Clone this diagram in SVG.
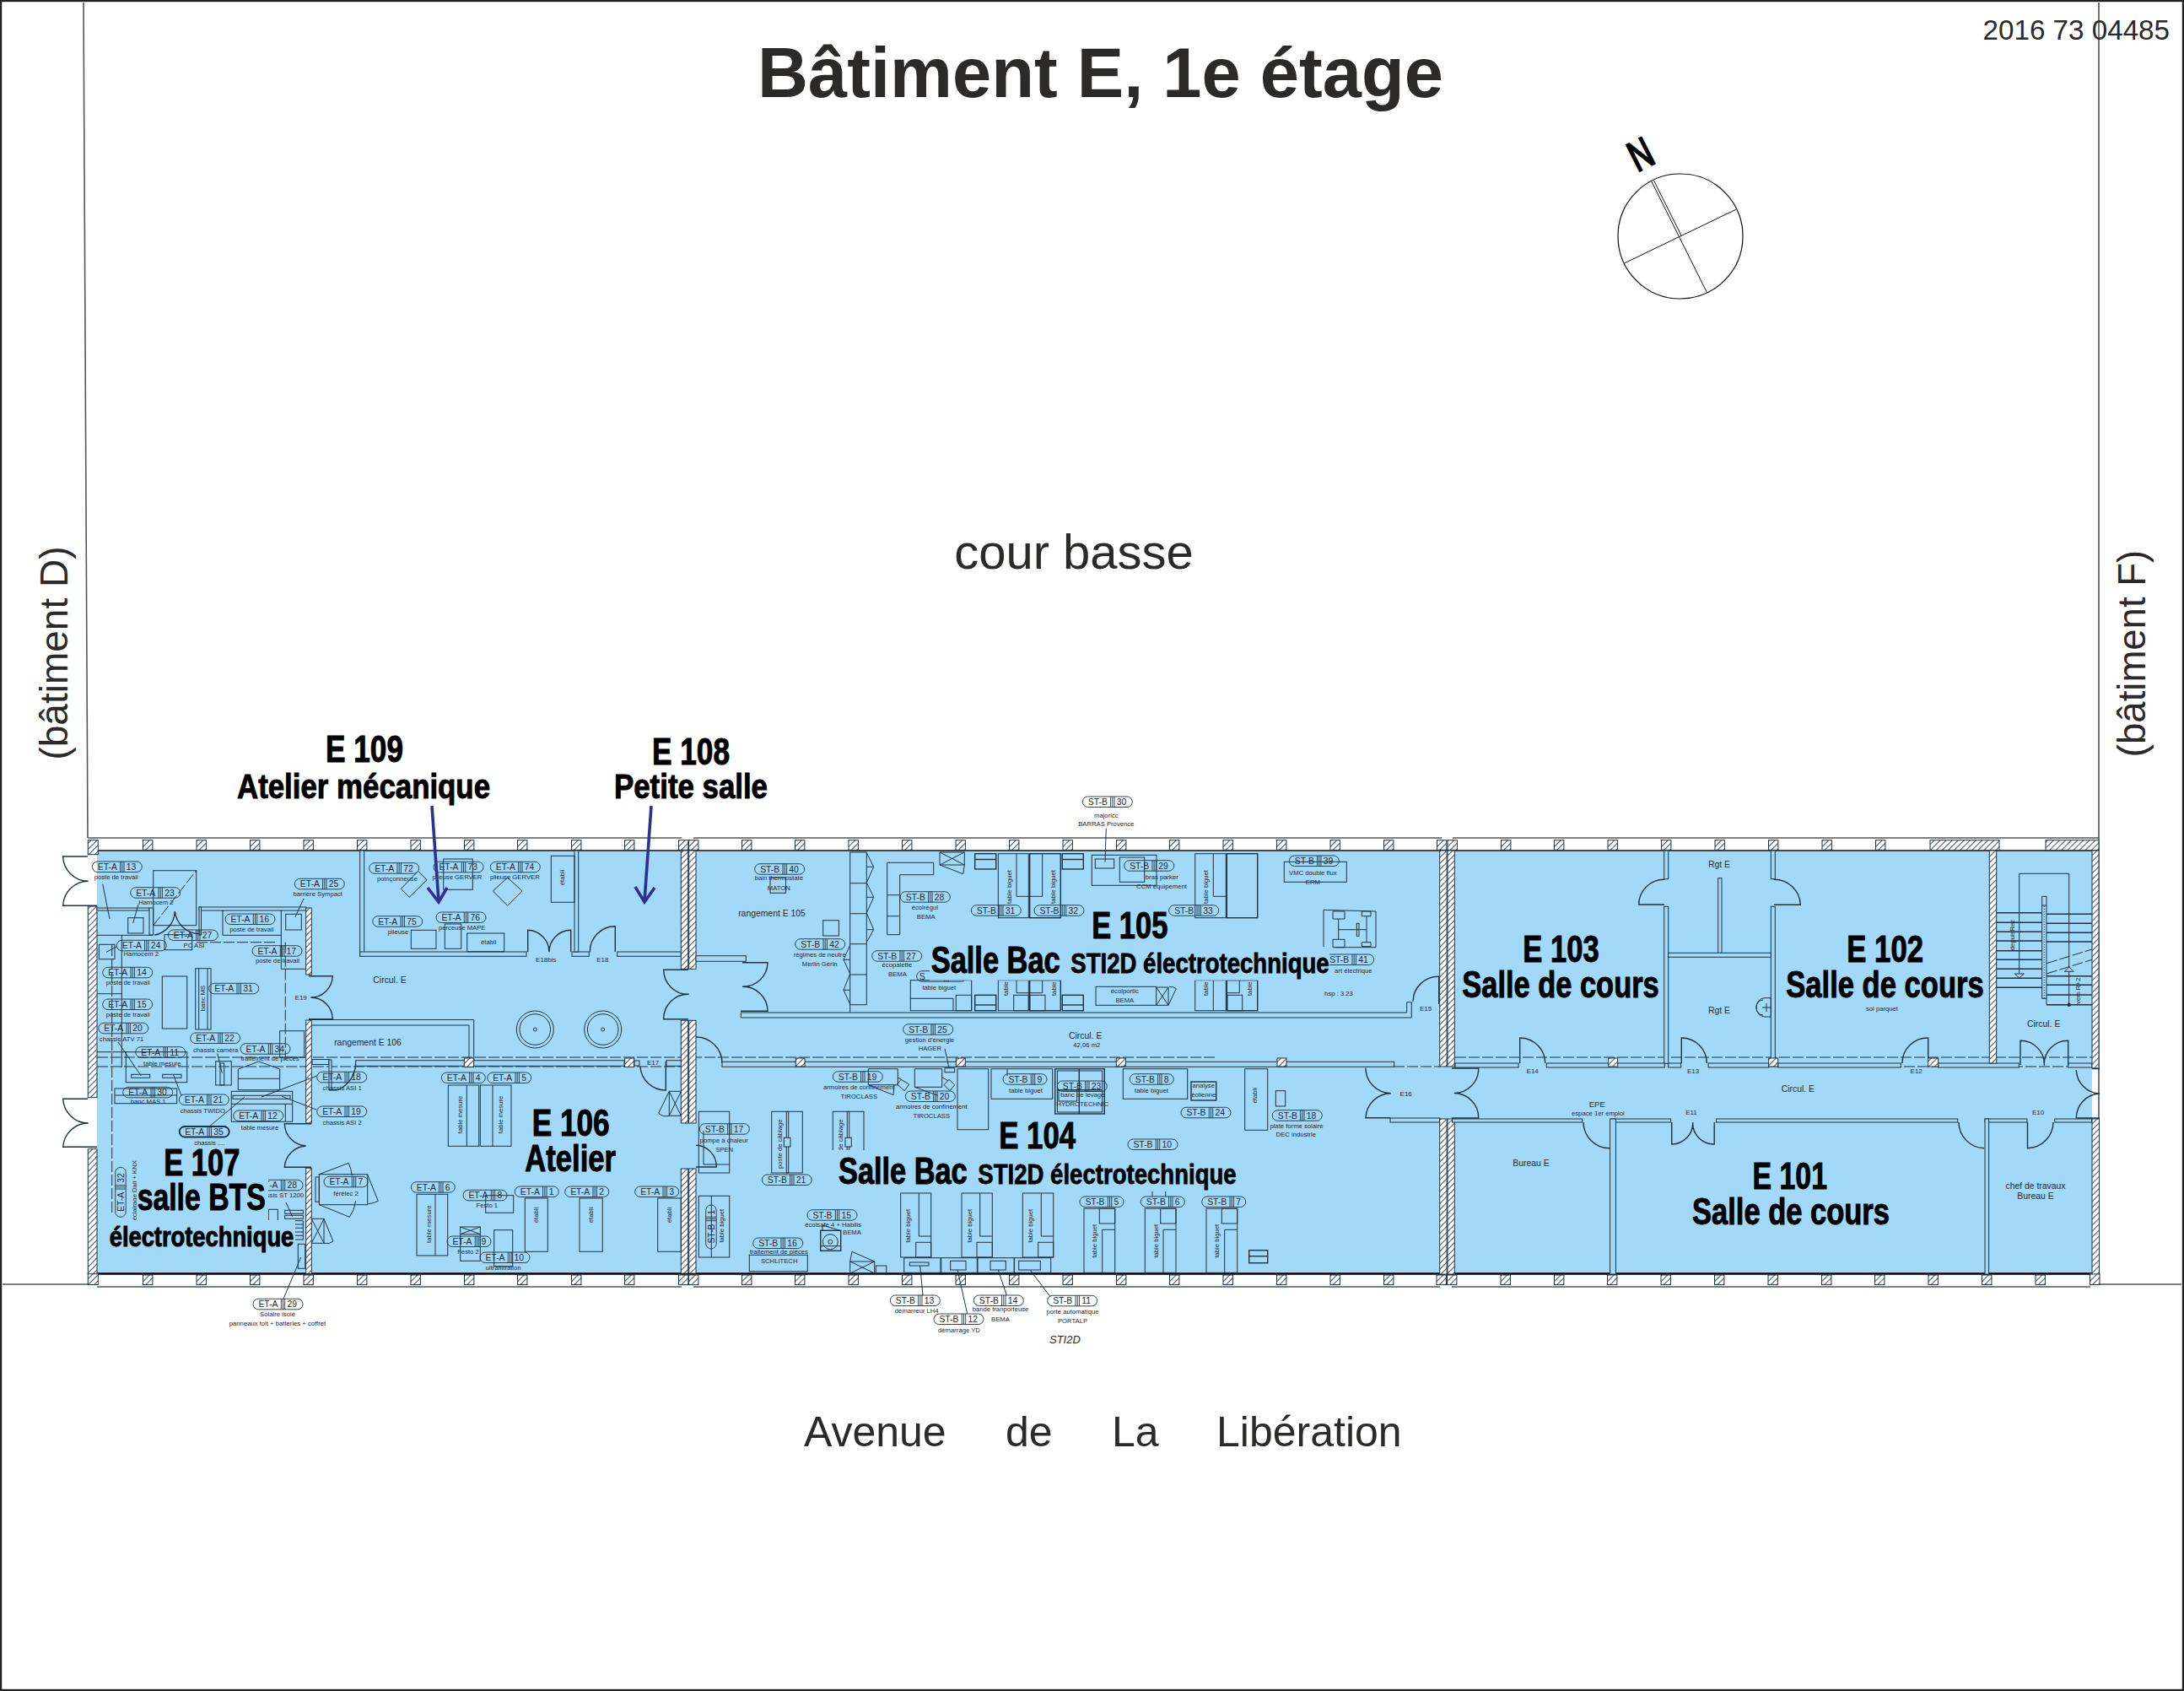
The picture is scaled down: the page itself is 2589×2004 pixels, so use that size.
<svg xmlns="http://www.w3.org/2000/svg" width="2589" height="2004" viewBox="0 0 2589 2004">
<style>
text{font-family:"Liberation Sans",Arial,sans-serif;fill:#1f2a30}
.l{fill:none;stroke:#1d3442;stroke-width:1}
.m{fill:none;stroke:#1d3442;stroke-width:1.4}
.w{fill:#a2d8f8;stroke:#1d3442;stroke-width:1}
.h{fill:url(#h);stroke:#1d3442;stroke-width:1}
.site{fill:none;stroke:#555;stroke-width:1.6}
.dash{fill:none;stroke:#1d3442;stroke-width:1;stroke-dasharray:13 3}
.pl{fill:none;stroke:#1d3442;stroke-width:.9}
.tag text{font-size:10.4px;text-anchor:middle}
.tag .n{text-anchor:start}
.s{font-size:7.7px;text-anchor:middle}
.c{font-size:10.4px;text-anchor:middle}
.d{font-size:8px;text-anchor:middle}
.b{font-weight:bold;fill:#000;stroke:#000;stroke-width:1;font-size:44px}
.b2{font-weight:bold;fill:#000;stroke:#000;stroke-width:.8;font-size:33px}
.t{font-size:50px;fill:#2b2a29}
.arr{fill:none;stroke:#2e3192;stroke-width:3.6}
</style>
<defs>
<pattern id="h" width="5" height="5" patternUnits="userSpaceOnUse" patternTransform="rotate(45)"><rect width="5" height="5" fill="#fff"/><line x1="0" y1="0" x2="0" y2="5" stroke="#1d2b33" stroke-width="1.6"/></pattern>
<rect id="pier" width="11.4" height="11.6" class="h"/>
<g id="p2" class="pl"><rect width="59" height="12.5" rx="6.25"/><path d="M33.3 0V12.5M35.5 0V12.5M37.7 0V12.5"/></g>
<g id="p1" class="pl"><rect width="52" height="12.5" rx="6.25"/><path d="M33.3 0V12.5M35.5 0V12.5M37.7 0V12.5"/></g>
</defs>
<rect id="page" x="1" y="1" width="2587" height="2002" fill="#fff" stroke="#222" stroke-width="2.4"/>
<g id="site">
<path class="site" d="M99 3L104 993M2488 3V1522M3 1522H104M2489 1522H2586"/>
</g>
<rect id="floor" x="115" y="1008" width="2365" height="502" fill="#a2d8f8"/>
<g id="facade">
<path class="site" d="M104 993H808M822 993H1709M1722 993H2488M115 1525H808M822 1525H1707M1721 1525H2478"/>
<path fill="none" stroke="#111" stroke-width="1.6" d="M115 1008H2480"/>
<path fill="none" stroke="#000" stroke-width="2.6" d="M115 1509.5H2480"/>
<g id="piers-top">
<rect x="104.3" y="995.7" width="12" height="17" class="h"/>
<use href="#pier" x="169.5" y="995.7"/><use href="#pier" x="233" y="995.7"/><use href="#pier" x="296.5" y="995.7"/><use href="#pier" x="360" y="995.7"/><use href="#pier" x="423.5" y="995.7"/><use href="#pier" x="487" y="995.7"/><use href="#pier" x="550.5" y="995.7"/><use href="#pier" x="613.5" y="995.7"/><use href="#pier" x="677.5" y="995.7"/><use href="#pier" x="740.5" y="995.7"/><use href="#pier" x="804.5" y="995.7"/><use href="#pier" x="816.5" y="995.7"/><use href="#pier" x="879.5" y="995.7"/><use href="#pier" x="942.5" y="995.7"/><use href="#pier" x="1006" y="995.7"/><use href="#pier" x="1069.5" y="995.7"/><use href="#pier" x="1133" y="995.7"/><use href="#pier" x="1196.5" y="995.7"/><use href="#pier" x="1260" y="995.7"/><use href="#pier" x="1323.5" y="995.7"/><use href="#pier" x="1386.5" y="995.7"/><use href="#pier" x="1450" y="995.7"/><use href="#pier" x="1513.5" y="995.7"/><use href="#pier" x="1577" y="995.7"/><use href="#pier" x="1640.5" y="995.7"/><use href="#pier" x="1703.5" y="995.7"/><use href="#pier" x="1716" y="995.7"/><use href="#pier" x="1779.5" y="995.7"/><use href="#pier" x="1842.5" y="995.7"/><use href="#pier" x="1906" y="995.7"/><use href="#pier" x="1969.5" y="995.7"/><use href="#pier" x="2033" y="995.7"/><use href="#pier" x="2096.5" y="995.7"/><use href="#pier" x="2160" y="995.7"/><use href="#pier" x="2223.5" y="995.7"/>
<rect x="2288" y="995.7" width="82" height="12" class="h"/><rect x="2425" y="995.7" width="63" height="12" class="h"/>
</g>
<g id="piers-bottom">
<rect x="104.3" y="1509" width="12" height="13.5" class="h"/>
<use href="#pier" x="169.5" y="1511"/><use href="#pier" x="233" y="1511"/><use href="#pier" x="296.5" y="1511"/><use href="#pier" x="360" y="1511"/><use href="#pier" x="423.5" y="1511"/><use href="#pier" x="487" y="1511"/><use href="#pier" x="550.5" y="1511"/><use href="#pier" x="613.5" y="1511"/><use href="#pier" x="677.5" y="1511"/><use href="#pier" x="740.5" y="1511"/><use href="#pier" x="804.5" y="1511"/><use href="#pier" x="816.5" y="1511"/><use href="#pier" x="879.5" y="1511"/><use href="#pier" x="942.5" y="1511"/><use href="#pier" x="1006" y="1511"/><use href="#pier" x="1069.5" y="1511"/><use href="#pier" x="1133" y="1511"/><use href="#pier" x="1196.5" y="1511"/><use href="#pier" x="1260" y="1511"/><use href="#pier" x="1323.5" y="1511"/><use href="#pier" x="1386.5" y="1511"/><use href="#pier" x="1450" y="1511"/><use href="#pier" x="1513.5" y="1511"/><use href="#pier" x="1577" y="1511"/><use href="#pier" x="1640.5" y="1511"/><use href="#pier" x="1703" y="1511"/><use href="#pier" x="1715.5" y="1511"/><use href="#pier" x="1779" y="1511"/><use href="#pier" x="1842.5" y="1511"/><use href="#pier" x="1905.5" y="1511"/><use href="#pier" x="1969" y="1511"/><use href="#pier" x="2032.5" y="1511"/><use href="#pier" x="2096" y="1511"/><use href="#pier" x="2159.5" y="1511"/><use href="#pier" x="2222.5" y="1511"/><use href="#pier" x="2286" y="1511"/><use href="#pier" x="2349.5" y="1511"/><use href="#pier" x="2413" y="1511"/><rect x="2477.5" y="1509" width="11.5" height="13.5" class="h"/>
</g>
</g>
<g id="dashes">
<path class="dash" d="M115 1253H1440M1725 1253H2480M115 1264H808M1652 1264H1707M2097 1264H2480"/>
<path class="dash" d="M233 1116.7H327M338.3 1116.7V1256M132.7 1120V1440"/>
</g>
<g id="walls">
<rect x="104.3" y="1074" width="10.7" height="226.7" class="h"/>
<rect x="104.3" y="1361.7" width="10.7" height="148" class="h"/>
<path class="m" d="M104 1015H74.7A30 30 0 0 0 104.7 1044.3A30 30 0 0 0 74.7 1073.3H115M104 1302.3H74.7A30 30 0 0 0 104.7 1331A30 30 0 0 0 74.7 1359.3H115"/>
<rect x="115" y="1076" width="62" height="3" class="w"/><rect x="177" y="1076" width="4.7" height="32" class="w"/>
<path class="l" d="M115 1108.3H181"/>
<path class="m" d="M183.3 1108.3A30 30 0 0 0 207.3 1080A30 30 0 0 0 236 1106.7"/>
<rect x="236" y="1075" width="127" height="4" class="w"/><rect x="236" y="1075" width="2.5" height="33" class="w"/>
<rect x="362.7" y="1076" width="6.6" height="79" class="h"/>
<path class="m" d="M366 1156.7H394.3A26 26 0 0 1 368.3 1182A26 26 0 0 1 394.3 1207.7H366"/>
<rect x="362.7" y="1209" width="6.6" height="122" class="h"/>
<path class="m" d="M369 1331.7H337.3A27 27 0 0 0 362.7 1358A27 27 0 0 0 337.3 1383.3H369"/>
<rect x="362.7" y="1384.3" width="6.6" height="125" class="h"/>
<path class="l" d="M366 1208.5H561.7V1256.7M370 1215H556V1256.7"/>
<rect x="370" y="1255.5" width="20" height="6" class="w"/><rect x="390" y="1256" width="3" height="35.7" class="w"/>
<path class="m" d="M421.7 1258A35 35 0 0 1 400 1291.7H390"/>
<rect x="421.7" y="1256.7" width="318.3" height="6.6" class="w"/>
<rect x="550.3" y="1254" width="11.4" height="10.5" class="h"/><rect x="740.7" y="1254" width="11" height="10.5" class="h"/>
<rect x="752" y="1257" width="6" height="6" class="w"/><rect x="790" y="1256.7" width="18" height="6.6" class="w"/>
<path class="m" d="M759 1264A30 30 0 0 0 789.3 1292V1258"/>
<path class="l" d="M793.3 1293.3H807.3M793.3 1293.3V1322.3H807.3M793.3 1293.3L807.3 1322.3M807.3 1293.3L793.3 1322.3M793.3 1293.3L780.7 1319.3A14 14 0 0 0 793.3 1322.3"/>
<rect x="426.7" y="1008" width="5" height="125" class="w"/><rect x="426.7" y="1128" width="197.3" height="5.3" class="w"/>
<rect x="678" y="1128" width="20.3" height="5.3" class="w"/><rect x="681" y="1008" width="4.7" height="120" class="w"/>
<rect x="731.7" y="1128" width="75.6" height="5.3" class="w"/>
<path class="m" d="M625.7 1128V1102.3A26 26 0 0 1 651 1128.3A26 26 0 0 1 676.7 1102.3V1128M699.3 1128.3A30 30 0 0 1 729.3 1097.7V1128"/>
<rect x="807.3" y="1008" width="8.4" height="140.3" class="h"/><rect x="816.7" y="1008" width="8.3" height="140.3" class="h"/>
<path class="m" d="M816 1149.3H786.7A29 29 0 0 0 816.7 1178.3A29 29 0 0 0 786.7 1207.7H816"/>
<rect x="807.3" y="1209.3" width="8.4" height="121.7" class="h"/><rect x="816.7" y="1209.3" width="8.3" height="121.7" class="h"/>
<rect x="807.3" y="1385" width="8.4" height="124" class="h"/><rect x="816.7" y="1385" width="8.3" height="124" class="h"/>
<path class="m" d="M825 1357.3A25 25 0 0 1 849.3 1383H825"/>
<rect x="825" y="1132.7" width="59.3" height="6.6" class="w"/>
<path class="m" d="M880 1140.7H910A29 29 0 0 1 880 1169.3A29 29 0 0 1 910 1198.3H878"/>
<path class="w" d="M878.3 1200H1667.7V1187.7H1673.3V1206H878.3Z"/>
<path class="m" d="M1675 1186.7A30 30 0 0 1 1705.7 1157.3V1190"/>
<path class="m" d="M825 1229A31 31 0 0 1 856 1260"/>
<rect x="856" y="1258.3" width="796.7" height="6" class="w"/>
<rect x="943.3" y="1254" width="10.7" height="10" class="h"/><rect x="1133.3" y="1254" width="11" height="10" class="h"/><rect x="1323.3" y="1254" width="11" height="10" class="h"/><rect x="1514" y="1254" width="11" height="10" class="h"/>
<path class="m" d="M1619 1265.7A30 30 0 0 0 1648.7 1295.7A30 30 0 0 0 1619 1324.7H1648"/>
<rect x="1648" y="1325" width="59" height="5" class="w"/>
<rect x="1706.7" y="1008" width="8.4" height="256" class="h"/><rect x="1716" y="1008" width="8.3" height="256" class="h"/>
<rect x="1706.7" y="1326" width="8.4" height="184" class="h"/><rect x="1716" y="1326" width="8.3" height="184" class="h"/>
<path class="m" d="M1721 1266H1752.7A29 29 0 0 1 1723.8 1295.5A29 29 0 0 1 1752.7 1325H1721"/>
<rect x="1972.7" y="1008" width="5" height="33.7" class="w"/><rect x="1972.7" y="1074.3" width="5" height="186" class="w"/>
<path class="m" d="M1973.3 1042.3A30 30 0 0 0 1942.7 1072H1973"/>
<rect x="2099.3" y="1008" width="5" height="33.7" class="w"/><rect x="2099.3" y="1074.3" width="5" height="186" class="w"/>
<path class="m" d="M2102.7 1042.3A31 31 0 0 1 2134.3 1072.3H2103"/>
<rect x="2036.7" y="1040.7" width="4.3" height="90" class="w"/><rect x="1977.7" y="1129.3" width="121.6" height="5" class="w"/>
<rect x="1725" y="1260" width="75" height="5" class="w"/><rect x="1833.3" y="1260" width="140" height="5" class="w"/><rect x="1977.7" y="1260" width="15" height="5" class="w"/><rect x="2025" y="1260" width="71.7" height="5" class="w"/><rect x="2107.7" y="1260" width="145.6" height="5" class="w"/><rect x="2297.7" y="1260" width="95.6" height="5" class="w"/><rect x="2451.7" y="1260" width="28.3" height="5" class="w"/>
<rect x="1906.7" y="1254" width="11" height="10" class="h"/><rect x="2096.7" y="1254" width="11" height="10" class="h"/><rect x="2285.7" y="1254" width="12" height="10" class="h"/>
<path class="m" d="M1801.7 1260V1230A30 30 0 0 1 1831.7 1260M1993.3 1260V1230A30 30 0 0 1 2023.3 1260M2255 1260A30 30 0 0 1 2285.7 1230V1254M2395 1262V1233.3A28 28 0 0 1 2423.3 1262.7A28 28 0 0 1 2451.7 1233.3V1262"/>
<rect x="2358.3" y="1008" width="8.4" height="252" class="h"/>
<rect x="2480" y="1008" width="8" height="258" class="h"/>
<rect x="2480" y="1326" width="8.5" height="184" class="h"/>
<path class="m" d="M2480 1266.5H2489M2461.3 1268A29 29 0 0 0 2489 1296A29 29 0 0 0 2461.3 1325H2489"/>
<rect x="1721.5" y="1326" width="154.2" height="4" class="w"/><rect x="1909.8" y="1326" width="70.8" height="4" class="w"/><rect x="2034.5" y="1326" width="286.2" height="4" class="w"/><rect x="2353" y="1326" width="50" height="4" class="w"/><rect x="2435.8" y="1326" width="43.7" height="4" class="w"/>
<rect x="1908.6" y="1326" width="6.8" height="184" class="w"/><rect x="2353" y="1326" width="4.6" height="184" class="w"/>
<path class="m" d="M1877 1330A31 31 0 0 0 1908.6 1360.7M1981.7 1330V1356A25 25 0 0 0 2006.7 1330A25 25 0 0 0 2032.2 1356V1330M2322 1330A31 31 0 0 0 2352 1360.7M2403.5 1330V1360.7A31 31 0 0 0 2434 1330"/>
</g>
<g id="furniture-e107">
<rect x="181.7" y="1031.7" width="51" height="65" class="l"/>
<path class="dash" d="M181.7 1096.7L232.7 1031.7"/>
<path class="l" d="M144.3 1108V1265M115 1177.7H144.3M333.3 1079V1148.3H363M264 1079V1108.3H333M115 1246.7H150"/>
<rect x="117.3" y="1119.3" width="18.7" height="17.4" class="l"/><rect x="151.7" y="1087.7" width="18.3" height="18.3" class="l"/><rect x="338.7" y="1083.3" width="18.6" height="18.7" class="l"/><rect x="195" y="1107.7" width="32.7" height="18" class="l"/><rect x="192.3" y="1157" width="29.4" height="62" class="l"/>
<rect x="231.7" y="1147.7" width="18.3" height="72.3" class="l"/><path class="l" d="M235.7 1147.7V1220M246 1147.7V1220"/>
<rect x="331.7" y="1221.7" width="29" height="31.3" class="l"/>
<rect x="149.3" y="1246.7" width="72.4" height="36" class="l"/><rect x="155.7" y="1273.3" width="22" height="4" class="l"/><rect x="192.7" y="1273.3" width="22.3" height="4" class="l"/>
<rect x="255.7" y="1257.7" width="18.6" height="28.3" class="l"/><rect x="261" y="1260" width="4.7" height="26" class="l"/>
<path class="l" d="M282.3 1267L306.7 1258L331.7 1267V1291.7H282.3ZM282.3 1278.3H331.7"/>
<rect x="274.3" y="1293.3" width="72.4" height="36" class="l"/><rect x="276" y="1298.3" width="68" height="4" class="l"/><path class="l" d="M274.3 1308.3H346.7M338.3 1308.3V1329"/>
<rect x="136" y="1290" width="73.7" height="17.7" class="l"/><path class="l" d="M136 1298H209.7"/>
<rect x="337.7" y="1434.3" width="21.6" height="4" class="l"/><rect x="337.7" y="1440.3" width="21.6" height="4" class="l"/>
<path class="l" d="M350 1446.7H359.3M350 1451H359.3M350 1455.3H359.3M350 1460H359.3M350 1464.3H359.3M350 1469H359.3M359.3 1446.7V1469"/>
<rect x="353.3" y="1474.3" width="8.4" height="29" class="l"/>
<path class="l" d="M318.3 1446V1433.3H329.3V1446"/>
<path class="l" d="M369.3 1444.3H384V1473.3H369.3M369.3 1444.3L384 1473.3M384 1444.3L369.3 1473.3M384 1444.3L395 1471A12 12 0 0 1 384 1473.3"/>
<rect x="378.3" y="1391.7" width="57.4" height="36" class="l"/><rect x="374" y="1395" width="4.3" height="29.3" class="l"/>
<path class="l" d="M378.3 1391.7L413.3 1378.3A50 50 0 0 1 417.3 1393.3M378.3 1427.7L414.3 1442.3A40 40 0 0 0 421.7 1423M435.7 1392.3L448.3 1423.3A30 30 0 0 1 436.7 1426.7"/>
</g>
<g id="furniture-e109">
<path class="l" d="M485.3 1063.3L506 1042.7L495.7 1032.3L475.3 1053.3ZM601.7 1073.3L619 1056L601.7 1040L584.3 1056Z"/>
<rect x="525.7" y="1018" width="34.6" height="36.3" class="l"/><rect x="653.3" y="1014.3" width="27.7" height="55" class="l"/>
<rect x="487.3" y="1102.3" width="29.7" height="22" class="l"/><rect x="527.3" y="1095" width="19.4" height="29.3" class="l"/><rect x="553.7" y="1106" width="44" height="21.7" class="l"/>
<circle cx="634.3" cy="1220" r="22" class="l"/><circle cx="634.3" cy="1220" r="18.3" class="l"/><circle cx="634.3" cy="1220" r="2" class="l"/>
<circle cx="714.7" cy="1220" r="22" class="l"/><circle cx="714.7" cy="1220" r="18.3" class="l"/><circle cx="714.7" cy="1220" r="2" class="l"/>
</g>
<g id="furniture-e106">
<rect x="531.3" y="1286" width="36.4" height="72.3" class="l"/><path class="l" d="M553.3 1286V1358.3"/>
<rect x="569.3" y="1286" width="36.7" height="72.3" class="l"/><path class="l" d="M584 1286V1358.3"/>
<rect x="494" y="1415.3" width="36.7" height="72.7" class="l"/><path class="l" d="M516 1415.3V1488"/>
<rect x="622.3" y="1420" width="27" height="63.3" class="l"/><rect x="687" y="1420" width="27.3" height="63.3" class="l"/><rect x="779.7" y="1420" width="27.6" height="63.3" class="l"/>
<rect x="575.7" y="1416.7" width="33" height="20.6" class="l"/>
<rect x="545.7" y="1454" width="23.6" height="40.3" class="l"/><path class="l" d="M545.7 1462.7H569.3M545.7 1454L569.3 1462.7M569.3 1454L545.7 1462.7"/>
<rect x="585.7" y="1457.7" width="22" height="43" class="l"/>
</g>
<g id="furniture-e105">
<rect x="1007.7" y="1010" width="19.6" height="180.7" class="l"/><path class="l" d="M1007.7 1046.7H1027.3M1007.7 1082.7H1027.3M1007.7 1118.7H1027.3M1007.7 1155H1027.3M1007.7 1190V1200"/>
<path class="l" d="M1027.3 1010.7L1035.7 1027.3L1027.3 1046L1035.7 1063.3L1027.3 1082L1035.7 1101.7L1027.3 1116.7M1027.3 1027.3H1035.7M1027.3 1063.3H1035.7M1027.3 1101.7H1035.7M1007.7 1120L1000 1137.3L1007.7 1154L1000 1173.3L1007.7 1190M1000 1137.3H1007.7M1000 1173.3H1007.7"/>
<rect x="913" y="1040" width="18.5" height="18.3" class="l"/>
<rect x="975.7" y="1090.7" width="18.7" height="18.3" class="l"/>
<path class="l" d="M1051.7 1022.3H1106.7V1036.7H1066.7V1107.7H1051.7ZM1051.7 1060.7H1066.7M1051.7 1085.7H1066.7"/>
<path class="l" d="M1114 1010H1143.3V1025H1114ZM1114 1010L1143.3 1025M1143.3 1010L1114 1025M1114 1025L1141.7 1035.7L1143.3 1025"/>
<rect x="1155.7" y="1011.7" width="25" height="18.3" class="m"/><path class="m" d="M1155.7 1018.5H1180.7"/>
<rect x="1183.3" y="1011.7" width="36" height="76" class="l"/><path class="l" d="M1205 1011.7V1062.3H1235.7V1011.7"/>
<rect x="1220.7" y="1011.7" width="36.6" height="76" class="m"/>
<rect x="1259.3" y="1011.7" width="25" height="18.3" class="m"/><path class="m" d="M1259.3 1018.5H1284.3"/>
<rect x="1294.3" y="1013.3" width="76.7" height="36" class="l"/><rect x="1298.3" y="1018" width="22.4" height="11" class="l"/><rect x="1327.3" y="1016" width="29.4" height="29.3" class="l"/>
<rect x="1416.7" y="1011.7" width="36.6" height="76" class="l"/><path class="l" d="M1438.3 1011.7V1062.3H1453.3"/>
<rect x="1454.3" y="1011.7" width="36.4" height="76" class="m"/>
<rect x="1522.3" y="1021.3" width="74" height="24" class="l"/>
<path class="l" d="M1569 1123V1078.3L1631 1080V1122.7H1583M1580 1080H1594V1089H1580ZM1614.3 1080H1625V1085.7H1614.3ZM1614.3 1116.7H1625V1121.7H1614.3ZM1580 1113.3H1594V1122.7H1580ZM1586.7 1089V1113.3M1620 1085.7V1116.7M1586.7 1101.7H1620"/>
<rect x="1608.3" y="1094.3" width="2.7" height="15" class="l"/>
<rect x="1079.3" y="1161.7" width="72.4" height="36" class="l"/><path class="l" d="M1079.3 1183.3H1130V1197.7"/><rect x="1133.3" y="1179.3" width="18.4" height="18.4" class="l"/>
<rect x="1155.7" y="1179.3" width="25" height="18.4" class="m"/><path class="m" d="M1155.7 1191H1180.7"/>
<rect x="1183.3" y="1161.7" width="36" height="36" class="l"/><rect x="1220.7" y="1161.7" width="36.6" height="36" class="m"/>
<rect x="1201.7" y="1179.3" width="17.6" height="18.4" class="l"/><rect x="1220.7" y="1179.3" width="18.3" height="18.4" class="l"/>
<path class="l" d="M1205 1161.7V1176.7H1235.7V1161.7"/>
<rect x="1259.3" y="1179.3" width="25" height="18.4" class="m"/><path class="m" d="M1259.3 1191H1284.3"/>
<rect x="1299" y="1169.3" width="71.7" height="22" class="l"/>
<path class="l" d="M1370.7 1170H1385V1191.3H1370.7M1370.7 1170L1385 1191.3M1385 1170L1370.7 1191.3M1385 1191.3L1394.3 1171.7A12 12 0 0 0 1386 1169.3"/>
<rect x="1416.7" y="1161.7" width="36.6" height="36" class="l"/><path class="l" d="M1438.3 1161.7V1197.7"/>
<rect x="1454.3" y="1161.7" width="36.4" height="36" class="m"/><rect x="1455" y="1179.3" width="17.7" height="18.4" class="l"/><path class="l" d="M1469.3 1161.7V1176.7H1455"/>
</g>
<g id="furniture-e104">
<path class="l" d="M1029.3 1266.7H1064.3V1285.7H1029.3ZM1029.3 1285.7L1059 1297.7L1060 1285.7M1068.3 1279.3L1077.7 1285L1072.3 1292.7L1063.3 1285ZM1064.3 1276.7L1068.3 1279.3"/>
<path class="l" d="M1084.3 1266.7H1116.7V1288.3H1084.3ZM1084.3 1288.3L1111.7 1298.3M1125 1279.3L1131.7 1285.7L1126 1292.7L1119 1285.7ZM1116.7 1276.7L1124 1281"/>
<rect x="1120" y="1265.7" width="11.7" height="5" class="l"/>
<rect x="1135" y="1266.7" width="36.7" height="72" class="l"/>
<rect x="1175" y="1266.7" width="72.7" height="35.6" class="l"/><path class="l" d="M1194 1266.7V1275"/>
<rect x="1250.7" y="1266.7" width="58.6" height="53.3" class="m"/><rect x="1253.4" y="1269" width="53.3" height="49" class="l"/><path class="m" d="M1279.3 1266.7V1320M1253.4 1291.7H1306.7"/>
<rect x="1255" y="1291.7" width="21.7" height="13.3" class="l"/>
<rect x="1331.3" y="1266.7" width="76.4" height="35.6" class="l"/>
<rect x="1412" y="1282" width="29.7" height="22" class="m"/>
<rect x="1475.7" y="1266.7" width="27" height="72.6" class="l"/><rect x="1512.3" y="1292.7" width="11.4" height="18.3" class="l"/>
<rect x="828.3" y="1317.3" width="36.4" height="72.7" class="l"/><path class="l" d="M834 1340V1380H864.7"/>
<rect x="914.7" y="1317.3" width="36.6" height="72.7" class="l"/><rect x="932.3" y="1317.3" width="2.4" height="72.7" class="l"/><rect x="929.3" y="1348.3" width="7.7" height="10.7" class="w"/>
<rect x="987.3" y="1317.3" width="36.7" height="72.7" class="l"/><rect x="1004.3" y="1317.3" width="2.4" height="72.7" class="l"/><rect x="1002" y="1348.3" width="7.3" height="10.7" class="w"/>
<rect x="828.3" y="1417.3" width="36.4" height="72.7" class="l"/><path class="l" d="M843.3 1417.3V1490"/>
<rect x="972.7" y="1458.3" width="24" height="24" class="m"/><circle cx="984.3" cy="1471.7" r="9" class="l"/><circle cx="984.3" cy="1471.7" r="2.5" class="l"/><path class="l" d="M975 1458.3V1452L996 1458.3M972.7 1476.7H996.7"/>
<rect x="888.3" y="1487.3" width="69" height="19.4" class="l"/>
<path class="l" d="M1007.7 1495H1036.7V1509H1007.7ZM1007.7 1495L1036.7 1509M1036.7 1495L1007.7 1509M1007.7 1495L1010 1483.3L1036.7 1495"/>
<rect x="1038.3" y="1500" width="12.4" height="9" class="l"/>
<rect x="1067.7" y="1414" width="36" height="76" class="l"/><path class="l" d="M1089.3 1414V1465H1103.7"/><rect x="1085.7" y="1472.3" width="18" height="17.7" class="l"/>
<rect x="1140" y="1414" width="36.3" height="76" class="l"/><path class="l" d="M1161.7 1414V1465H1176.3"/><rect x="1158" y="1472.3" width="18.3" height="17.7" class="l"/>
<rect x="1212.3" y="1414" width="36.4" height="76" class="l"/><path class="l" d="M1234.3 1414V1465H1248.7"/><rect x="1230.7" y="1472.3" width="18" height="17.7" class="l"/>
<rect x="1071.7" y="1490.7" width="43.3" height="17.6" class="l"/><rect x="1115.7" y="1490.7" width="42.6" height="17.6" class="l"/><rect x="1159" y="1490.7" width="43.3" height="17.6" class="l"/><rect x="1202.3" y="1490.7" width="43.4" height="17.6" class="l"/>
<rect x="1078.3" y="1496" width="22.7" height="4" class="l"/><rect x="1126.7" y="1494.3" width="18.3" height="10.7" class="l"/><rect x="1174" y="1494.3" width="18.3" height="10.7" class="l"/><rect x="1207.7" y="1494.3" width="25.6" height="10.7" class="l"/>
<rect x="1285" y="1432.3" width="36.7" height="76" class="l"/><rect x="1303.3" y="1432.3" width="18.4" height="17.7" class="l"/><path class="l" d="M1321.7 1457.3H1306.7V1508.3"/>
<rect x="1357.3" y="1432.3" width="36.7" height="76" class="l"/><rect x="1375.7" y="1432.3" width="18.3" height="17.7" class="l"/><path class="l" d="M1394 1457.3H1379V1508.3"/>
<rect x="1430" y="1432.3" width="36.7" height="76" class="l"/><rect x="1448.3" y="1432.3" width="18.4" height="17.7" class="l"/><path class="l" d="M1466.7 1457.3H1451.7V1508.3"/>
<rect x="1480.7" y="1481.7" width="22" height="15" class="m"/><path class="m" d="M1480.7 1488.7H1502.7"/>
<path class="l" d="M1366 1411.7V1418M1381.7 1411.7V1418"/>
</g>
<g id="stairs">
<path class="l" d="M2393.7 1153.3V1035.3H2452.7V1146.7M2452.7 1151.3V1190.7H2426V1183.3"/>
<path class="l" d="M2388.3 1154H2399.3L2393.7 1159ZM2447.3 1151.3H2458.3L2452.7 1146Z"/>
<circle cx="2452.7" cy="1190.7" r="2.2" fill="#1d3442"/>
<rect x="2420.7" y="1062.3" width="5.3" height="121" class="l"/><path fill="none" stroke="#1d3442" stroke-width="1" stroke-dasharray="1 2" d="M2423.3 1074V1183"/><path class="l" d="M2420.7 1073H2426"/>
<path class="m" d="M2366.7 1081.7H2420.7M2366.7 1093.3H2420.7M2366.7 1104.3H2420.7M2366.7 1115H2420.7M2366.7 1126.7H2420.7M2366.7 1137.3H2420.7M2366.7 1148.3H2420.7M2366.7 1159.3H2420.7M2366.7 1170.3H2420.7M2426 1083.3H2480M2426 1094.3H2480M2426 1105.3H2480M2426 1116H2480M2426 1156.7H2480M2426 1167.3H2480M2426 1179H2480M2426 1190.7H2480"/>
<path class="dash" d="M2426 1141.7L2480 1125M2426 1154L2480 1137.3"/>
<path class="l" d="M2099.3 1182.7H2092A10 11 0 0 0 2092 1205H2099.3ZM2090 1185A8 9 0 0 0 2090 1203M2094 1189V1199M2089 1194H2099"/>
</g>
<g id="connectors">
<path class="l" d="M121.7 1047.7L130 1089M164 1071.7L157.7 1094M138.3 1121.7L126 1128.3M360 1065L350 1086.7M140 1235L167.3 1275M205.7 1274L215 1298.3M248.3 1335L290 1300M375.7 1275L310 1300M375 1315L334 1299.3M257.7 1248.3L263.3 1271.7M346.7 1441.7L339 1425M336 1539.3L356.7 1490M1311.3 981.7L1310 1021.7M1120 1242.7L1125 1265.7M1090.7 1500L1094 1535M1135 1505L1146.7 1557M1183.3 1505L1193.3 1535M1221.7 1505.7L1245 1536.7"/>
</g>
<g id="tags-et-a">
<g id="et-a-13" class="tag" transform="translate(109.3,1021)"><use href="#p2"/><text x="18" y="10">ET-A</text><text class="n" x="40.5" y="10">13</text></g>
<g id="et-a-23" class="tag" transform="translate(154.7,1051.7)"><use href="#p2"/><text x="18" y="10">ET-A</text><text class="n" x="40.5" y="10">23</text></g>
<g id="et-a-27" class="tag" transform="translate(199.3,1102)"><use href="#p2"/><text x="18" y="10">ET-A</text><text class="n" x="40.5" y="10">27</text></g>
<g id="et-a-24" class="tag" transform="translate(138.3,1114.3)"><use href="#p2"/><text x="18" y="10">ET-A</text><text class="n" x="40.5" y="10">24</text></g>
<g id="et-a-25" class="tag" transform="translate(349.3,1041.3)"><use href="#p2"/><text x="18" y="10">ET-A</text><text class="n" x="40.5" y="10">25</text></g>
<g id="et-a-16" class="tag" transform="translate(267,1083)"><use href="#p2"/><text x="18" y="10">ET-A</text><text class="n" x="40.5" y="10">16</text></g>
<g id="et-a-17" class="tag" transform="translate(299,1120.7)"><use href="#p2"/><text x="18" y="10">ET-A</text><text class="n" x="40.5" y="10">17</text></g>
<g id="et-a-14" class="tag" transform="translate(121.7,1146.3)"><use href="#p2"/><text x="18" y="10">ET-A</text><text class="n" x="40.5" y="10">14</text></g>
<g id="et-a-15" class="tag" transform="translate(121.7,1184)"><use href="#p2"/><text x="18" y="10">ET-A</text><text class="n" x="40.5" y="10">15</text></g>
<g id="et-a-20" class="tag" transform="translate(116.7,1212.3)"><use href="#p2"/><text x="18" y="10">ET-A</text><text class="n" x="40.5" y="10">20</text></g>
<g id="et-a-31" class="tag" transform="translate(247.7,1165.3)"><use href="#p2"/><text x="18" y="10">ET-A</text><text class="n" x="40.5" y="10">31</text></g>
<g id="et-a-22" class="tag" transform="translate(225.7,1224)"><use href="#p2"/><text x="18" y="10">ET-A</text><text class="n" x="40.5" y="10">22</text></g>
<g id="et-a-34" class="tag" transform="translate(285,1236.7)"><use href="#p2"/><text x="18" y="10">ET-A</text><text class="n" x="40.5" y="10">34</text></g>
<g id="et-a-11" class="tag" transform="translate(160.7,1240.7)"><use href="#p2"/><text x="18" y="10">ET-A</text><text class="n" x="40.5" y="10">11</text></g>
<g id="et-a-30" class="tag" transform="translate(145.7,1288.3)"><use href="#p2"/><text x="18" y="10">ET-A</text><text class="n" x="40.5" y="10">30</text></g>
<g id="et-a-21" class="tag" transform="translate(212.3,1297)"><use href="#p2"/><text x="18" y="10">ET-A</text><text class="n" x="40.5" y="10">21</text></g>
<g id="et-a-12" class="tag" transform="translate(276.7,1316)"><use href="#p2"/><text x="18" y="10">ET-A</text><text class="n" x="40.5" y="10">12</text></g>
<g id="et-a-35" class="tag" transform="translate(212.7,1335)"><use href="#p2"/><rect width="59" height="12.5" rx="6.25" fill="none" stroke="#1d3442" stroke-width="1.8"/><text x="18" y="10">ET-A</text><text class="n" x="40.5" y="10">35</text></g>
<g id="et-a-18" class="tag" transform="translate(375.7,1270.3)"><use href="#p2"/><text x="18" y="10">ET-A</text><text class="n" x="40.5" y="10">18</text></g>
<g id="et-a-19" class="tag" transform="translate(375.7,1311)"><use href="#p2"/><text x="18" y="10">ET-A</text><text class="n" x="40.5" y="10">19</text></g>
<g id="et-a-28" class="tag" transform="translate(300,1398.3)"><use href="#p2"/><text x="18" y="10">ET-A</text><text class="n" x="40.5" y="10">28</text></g>
<g id="et-a-7" class="tag" transform="translate(384,1394.3)"><use href="#p1"/><text x="18" y="10">ET-A</text><text class="n" x="40.5" y="10">7</text></g>
<g id="et-a-32" class="tag" transform="translate(136.7,1442.3) rotate(-90)"><use href="#p2"/><text x="18" y="10">ET-A</text><text class="n" x="40.5" y="10">32</text></g>
<g id="et-a-29" class="tag" transform="translate(300,1539.3)"><use href="#p2"/><text x="18" y="10">ET-A</text><text class="n" x="40.5" y="10">29</text></g>
<g id="et-a-72" class="tag" transform="translate(437.7,1022.7)"><use href="#p2"/><text x="18" y="10">ET-A</text><text class="n" x="40.5" y="10">72</text></g>
<g id="et-a-73" class="tag" transform="translate(514,1021.3)"><use href="#p2"/><text x="18" y="10">ET-A</text><text class="n" x="40.5" y="10">73</text></g>
<g id="et-a-74" class="tag" transform="translate(581.3,1021.3)"><use href="#p2"/><text x="18" y="10">ET-A</text><text class="n" x="40.5" y="10">74</text></g>
<g id="et-a-75" class="tag" transform="translate(441.7,1085.7)"><use href="#p2"/><text x="18" y="10">ET-A</text><text class="n" x="40.5" y="10">75</text></g>
<g id="et-a-76" class="tag" transform="translate(517,1081)"><use href="#p2"/><text x="18" y="10">ET-A</text><text class="n" x="40.5" y="10">76</text></g>
<g id="et-a-4" class="tag" transform="translate(523.3,1271)"><use href="#p1"/><text x="18" y="10">ET-A</text><text class="n" x="40.5" y="10">4</text></g>
<g id="et-a-5" class="tag" transform="translate(577.7,1271)"><use href="#p1"/><text x="18" y="10">ET-A</text><text class="n" x="40.5" y="10">5</text></g>
<g id="et-a-6" class="tag" transform="translate(487.3,1400.7)"><use href="#p1"/><text x="18" y="10">ET-A</text><text class="n" x="40.5" y="10">6</text></g>
<g id="et-a-8" class="tag" transform="translate(549,1410.3)"><use href="#p1"/><text x="18" y="10">ET-A</text><text class="n" x="40.5" y="10">8</text></g>
<g id="et-a-1" class="tag" transform="translate(610.3,1406)"><use href="#p1"/><text x="18" y="10">ET-A</text><text class="n" x="40.5" y="10">1</text></g>
<g id="et-a-2" class="tag" transform="translate(669.7,1406)"><use href="#p1"/><text x="18" y="10">ET-A</text><text class="n" x="40.5" y="10">2</text></g>
<g id="et-a-3" class="tag" transform="translate(752.7,1406)"><use href="#p1"/><text x="18" y="10">ET-A</text><text class="n" x="40.5" y="10">3</text></g>
<g id="et-a-9" class="tag" transform="translate(530,1465)"><use href="#p1"/><text x="18" y="10">ET-A</text><text class="n" x="40.5" y="10">9</text></g>
<g id="et-a-10" class="tag" transform="translate(569,1484)"><use href="#p2"/><text x="18" y="10">ET-A</text><text class="n" x="40.5" y="10">10</text></g>
</g>
<g id="tags-st-b">
<g id="st-b-40" class="tag" transform="translate(894.7,1023.7)"><use href="#p2"/><text x="18" y="10">ST-B</text><text class="n" x="40.5" y="10">40</text></g>
<g id="st-b-42" class="tag" transform="translate(942.7,1112.7)"><use href="#p2"/><text x="18" y="10">ST-B</text><text class="n" x="40.5" y="10">42</text></g>
<g id="st-b-28" class="tag" transform="translate(1067.3,1056.7)"><use href="#p2"/><text x="18" y="10">ST-B</text><text class="n" x="40.5" y="10">28</text></g>
<g id="st-b-31" class="tag" transform="translate(1151.3,1072.7)"><use href="#p2"/><text x="18" y="10">ST-B</text><text class="n" x="40.5" y="10">31</text></g>
<g id="st-b-27" class="tag" transform="translate(1033.7,1126.7)"><use href="#p2"/><text x="18" y="10">ST-B</text><text class="n" x="40.5" y="10">27</text></g>
<g id="st-b-part" class="tag" transform="translate(1086.7,1150.7)"><use href="#p2"/><text x="6.5" y="10">S</text></g>
<g id="st-b-30" class="tag" transform="translate(1283.3,944)"><use href="#p2"/><text x="18" y="10">ST-B</text><text class="n" x="40.5" y="10">30</text></g>
<g id="st-b-29" class="tag" transform="translate(1332.7,1019.7)"><use href="#p2"/><text x="18" y="10">ST-B</text><text class="n" x="40.5" y="10">29</text></g>
<g id="st-b-32" class="tag" transform="translate(1226,1072.7)"><use href="#p2"/><text x="18" y="10">ST-B</text><text class="n" x="40.5" y="10">32</text></g>
<g id="st-b-33" class="tag" transform="translate(1385.7,1072.7)"><use href="#p2"/><text x="18" y="10">ST-B</text><text class="n" x="40.5" y="10">33</text></g>
<g id="st-b-39" class="tag" transform="translate(1528.3,1014)"><use href="#p2"/><text x="18" y="10">ST-B</text><text class="n" x="40.5" y="10">39</text></g>
<g id="st-b-41" class="tag" transform="translate(1569.7,1131)"><use href="#p2"/><text x="18" y="10">ST-B</text><text class="n" x="40.5" y="10">41</text></g>
<g id="st-b-25" class="tag" transform="translate(1070.7,1213.7)"><use href="#p2"/><text x="18" y="10">ST-B</text><text class="n" x="40.5" y="10">25</text></g>
<g id="st-b-19" class="tag" transform="translate(987.3,1269.7)"><use href="#p2"/><text x="18" y="10">ST-B</text><text class="n" x="40.5" y="10">19</text></g>
<g id="st-b-20" class="tag" transform="translate(1073.3,1293)"><use href="#p2"/><text x="18" y="10">ST-B</text><text class="n" x="40.5" y="10">20</text></g>
<g id="st-b-9" class="tag" transform="translate(1189,1272.7)"><use href="#p1"/><text x="18" y="10">ST-B</text><text class="n" x="40.5" y="10">9</text></g>
<g id="st-b-17" class="tag" transform="translate(829.3,1331.7)"><use href="#p2"/><text x="18" y="10">ST-B</text><text class="n" x="40.5" y="10">17</text></g>
<g id="st-b-21" class="tag" transform="translate(903.3,1392)"><use href="#p2"/><text x="18" y="10">ST-B</text><text class="n" x="40.5" y="10">21</text></g>
<g id="st-b-15" class="tag" transform="translate(957,1433.7)"><use href="#p2"/><text x="18" y="10">ST-B</text><text class="n" x="40.5" y="10">15</text></g>
<g id="st-b-16" class="tag" transform="translate(892.7,1467)"><use href="#p2"/><text x="18" y="10">ST-B</text><text class="n" x="40.5" y="10">16</text></g>
<g id="st-b-1" class="tag" transform="translate(836.7,1480) rotate(-90)"><use href="#p1"/><text x="18" y="10">ST-B</text><text class="n" x="40.5" y="10">1</text></g>
<g id="st-b-23" class="tag" transform="translate(1253.3,1281)"><use href="#p2"/><text x="18" y="10">ST-B</text><text class="n" x="40.5" y="10">23</text></g>
<g id="st-b-8" class="tag" transform="translate(1339.3,1272.7)"><use href="#p1"/><text x="18" y="10">ST-B</text><text class="n" x="40.5" y="10">8</text></g>
<g id="st-b-24" class="tag" transform="translate(1400,1312.3)"><use href="#p2"/><text x="18" y="10">ST-B</text><text class="n" x="40.5" y="10">24</text></g>
<g id="st-b-18" class="tag" transform="translate(1508.3,1315.7)"><use href="#p2"/><text x="18" y="10">ST-B</text><text class="n" x="40.5" y="10">18</text></g>
<g id="st-b-10" class="tag" transform="translate(1337,1350)"><use href="#p2"/><text x="18" y="10">ST-B</text><text class="n" x="40.5" y="10">10</text></g>
<g id="st-b-5" class="tag" transform="translate(1280,1418)"><use href="#p1"/><text x="18" y="10">ST-B</text><text class="n" x="40.5" y="10">5</text></g>
<g id="st-b-6" class="tag" transform="translate(1352.3,1418)"><use href="#p1"/><text x="18" y="10">ST-B</text><text class="n" x="40.5" y="10">6</text></g>
<g id="st-b-7" class="tag" transform="translate(1424.7,1418)"><use href="#p1"/><text x="18" y="10">ST-B</text><text class="n" x="40.5" y="10">7</text></g>
<g id="st-b-11" class="tag" transform="translate(1241.7,1535.3)"><use href="#p2"/><text x="18" y="10">ST-B</text><text class="n" x="40.5" y="10">11</text></g>
<g id="st-b-13" class="tag" transform="translate(1055.3,1535)"><use href="#p2"/><text x="18" y="10">ST-B</text><text class="n" x="40.5" y="10">13</text></g>
<g id="st-b-12" class="tag" transform="translate(1107,1557)"><use href="#p2"/><text x="18" y="10">ST-B</text><text class="n" x="40.5" y="10">12</text></g>
<g id="st-b-14" class="tag" transform="translate(1154.3,1535)"><use href="#p2"/><text x="18" y="10">ST-B</text><text class="n" x="40.5" y="10">14</text></g>
</g>
<g id="small-labels">
<text class="s" x="137.7" y="1041.7">poste de travail</text>
<text class="s" x="185" y="1072">Hamocem 2</text>
<text class="s" x="230" y="1123.3">PC ASI</text>
<text class="s" x="167.3" y="1133.3">Hamocem 2</text>
<text class="s" x="376.7" y="1061.7">barrière Sympact</text>
<text class="s" x="298.3" y="1104">poste de travail</text>
<text class="s" x="329" y="1140.7">poste de travail</text>
<text class="s" x="151.7" y="1167.3">poste de travail</text>
<text class="s" x="151.7" y="1204.7">poste de travail</text>
<text class="s" x="144" y="1234.3">chassis ATV 71</text>
<text class="s" x="255.7" y="1246.7">chassis caméra</text>
<text class="s" x="320" y="1256.7">traitement de pièces</text>
<text class="s" x="192.3" y="1263.3">table mesure</text>
<text class="s" x="175.7" y="1308">banc MAS 1</text>
<text class="s" x="240.3" y="1318.7">chassis TWIDO</text>
<text class="s" x="308" y="1338.7">table mesure</text>
<text class="s" x="248.3" y="1356.7">chassis ....</text>
<text class="s" x="405.7" y="1291.7">chassis ASI 1</text>
<text class="s" x="405.7" y="1332.7">chassis ASI 2</text>
<text class="s" x="360" y="1419.3" style="text-anchor:end">chassis ST 1200</text>
<text class="s" x="410" y="1417.3">férélec 2</text>
<text class="s" transform="translate(161.5,1410.7) rotate(-90)">éclairage Dali + KNX</text>
<text class="s" x="329" y="1560">Solaire isolé</text>
<text class="s" x="329" y="1570.7">panneaux toit + batteries + coffret</text>
<text class="s" transform="translate(242.7,1183) rotate(-90)">banc MS</text>
<text class="d" x="356.7" y="1185">E19</text>
<text class="c" x="436" y="1238.7">rangement E 106</text>
<text class="s" x="471" y="1044">poinçonneuse</text>
<text class="s" x="542" y="1042">plieuse GERVER</text>
<text class="s" x="610.3" y="1042">plieuse GERVER</text>
<text class="s" x="472" y="1107">plieuse</text>
<text class="s" x="547.7" y="1102">perceuse MAPE</text>
<text class="s" x="579.3" y="1119.3">établi</text>
<text class="s" transform="translate(669.4,1040) rotate(-90)">établi</text>
<text class="d" x="647.3" y="1139.7">E18bis</text>
<text class="d" x="714.3" y="1139.7">E18</text>
<text class="c" x="462" y="1165">Circul. E</text>
<text class="d" x="774" y="1261.7">E17</text>
<text class="s" transform="translate(548.4,1321) rotate(-90)">table mesure</text>
<text class="s" transform="translate(596,1321) rotate(-90)">table mesure</text>
<text class="s" transform="translate(511,1450.7) rotate(-90)">table mesure</text>
<text class="s" transform="translate(638.4,1440) rotate(-90)">établi</text>
<text class="s" transform="translate(702.7,1440) rotate(-90)">établi</text>
<text class="s" transform="translate(796,1440) rotate(-90)">établi</text>
<text class="s" x="577.3" y="1430.7">Festo 1</text>
<text class="s" x="555" y="1485.7">Festo 2</text>
<text class="s" x="596.7" y="1504.7">ultrafiltration</text>
<text class="s" x="923.3" y="1043.3">bain thermostaté</text>
<text class="s" x="923.3" y="1054.7">MATON</text>
<text class="c" x="915" y="1086">rangement E 105</text>
<text class="s" x="971.7" y="1134">régimes de neutre</text>
<text class="s" x="971.7" y="1144.7">Merlin Gérin</text>
<text class="s" x="1096.3" y="1077.7">écolrégul</text>
<text class="s" x="1097.7" y="1088.7">BEMA</text>
<text class="s" x="1063.3" y="1145.7">écopalette</text>
<text class="s" x="1064" y="1157.3">BEMA</text>
<text class="s" transform="translate(1199.4,1051) rotate(-90)">table biguet</text>
<text class="s" transform="translate(1251,1051) rotate(-90)">table biguet</text>
<text class="s" transform="translate(1432,1051) rotate(-90)">table biguet</text>
<text class="s" x="1311.3" y="968.7">majoricc</text>
<text class="s" x="1311.3" y="979.3">BARRAS Provence</text>
<text class="s" x="1377.3" y="1041.7">bras parker</text>
<text class="s" x="1377" y="1052.7">CCM équipement</text>
<text class="s" x="1556.3" y="1037">VMC double flux</text>
<text class="s" x="1556.3" y="1047.7">ERM</text>
<text class="s" x="1604.3" y="1152.7">art électrique</text>
<text class="s" x="1587" y="1179.7">hsp : 3.23</text>
<text class="s" x="1113.3" y="1173.3">table biguet</text>
<text class="s" transform="translate(1195.4,1171.7) rotate(-90)">table</text>
<text class="s" transform="translate(1251.7,1171.7) rotate(-90)">table</text>
<text class="s" transform="translate(1432,1171.7) rotate(-90)">table</text>
<text class="s" transform="translate(1484.4,1171.7) rotate(-90)">table</text>
<text class="s" x="1333.3" y="1176.7">écolportic</text>
<text class="s" x="1333.3" y="1187.7">BEMA</text>
<text class="d" x="1690" y="1197.7">E15</text>
<text class="c" x="1286.7" y="1231">Circul. E</text>
<text class="s" x="1288.3" y="1240.7">42,06 m2</text>
<text class="s" x="1102" y="1235">gestion d'énergie</text>
<text class="s" x="1102.3" y="1245.3">HAGER</text>
<text class="s" x="1018.3" y="1290.7">armoires de confinement</text>
<text class="s" x="1018.3" y="1301.7">TIROCLASS</text>
<text class="s" x="1104.3" y="1314.3">armoires de confinement</text>
<text class="s" x="1104.3" y="1325.3">TIROCLASS</text>
<text class="s" x="1216" y="1294.7">table biguet</text>
<text class="s" x="858.3" y="1353.7">pompe à chaleur</text>
<text class="s" x="858.7" y="1364.7">SPEN</text>
<text class="s" transform="translate(926.7,1355.7) rotate(-90)">poste de câblage</text>
<text class="s" transform="translate(999.4,1355.7) rotate(-90)">poste de câblage</text>
<text class="s" transform="translate(858.4,1452.7) rotate(-90)">table biguet</text>
<text class="s" x="987.7" y="1454.3">écolsafe 4 + Habilis</text>
<text class="s" x="1010" y="1462.7">BEMA</text>
<text class="s" x="923.3" y="1485.7">traitement de pièces</text>
<text class="s" x="923.7" y="1496.7">SCHLITECH</text>
<text class="s" transform="translate(1079.4,1452.7) rotate(-90)">table biguet</text>
<text class="s" transform="translate(1152,1452.7) rotate(-90)">table biguet</text>
<text class="s" transform="translate(1224.4,1452.7) rotate(-90)">table biguet</text>
<text class="s" x="1086.7" y="1555.7">démarreur LH4</text>
<text class="s" x="1137" y="1578.7">démarrage YD</text>
<text class="s" x="1186" y="1554.3">bande tranporteuse</text>
<text class="s" x="1186" y="1565.7">BEMA</text>
<text class="s" x="1271.5" y="1557.3">porte automatique</text>
<text class="s" x="1271.5" y="1568">PORTALP</text>
<text x="1244" y="1591.7" font-size="13" font-style="italic">STI2D</text>
<text class="s" x="1283.3" y="1300">banc de levage</text>
<text class="s" x="1283.3" y="1311.3">HYDROTECHNIC</text>
<text class="s" x="1365" y="1294.7">table biguet</text>
<text class="s" x="1426.7" y="1288.7">analyse</text>
<text class="s" x="1426.7" y="1300.3">éolienne</text>
<text class="s" transform="translate(1490,1298.3) rotate(-90)">établi</text>
<text class="s" x="1537" y="1336.7">plate forme solaire</text>
<text class="s" x="1536.3" y="1347.3">DEC industrie</text>
<text class="d" x="1666.7" y="1299">E16</text>
<text class="s" transform="translate(1300,1470.7) rotate(-90)">table biguet</text>
<text class="s" transform="translate(1372.7,1470.7) rotate(-90)">table biguet</text>
<text class="s" transform="translate(1445,1470.7) rotate(-90)">table biguet</text>
<text class="c" x="2038" y="1027.7">Rgt E</text>
<text class="c" x="2038" y="1200.7">Rgt E</text>
<text class="d" x="1816.7" y="1271.7">E14</text>
<text class="d" x="2007" y="1271.7">E13</text>
<text class="d" x="2271.7" y="1271.7">E12</text>
<text class="s" x="2231" y="1198.3">sol parquet</text>
<text class="s" transform="translate(2388,1108) rotate(-90)">depuisRez</text>
<text class="s" transform="translate(2466,1174.3) rotate(-90)">vers R+2</text>
<text class="c" x="2422.7" y="1216.7">Circul. E</text>
<text class="c" x="2131.4" y="1294.3">Circul. E</text>
<text class="c" x="1893.3" y="1311.7" style="font-size:9.5px">EPE</text>
<text class="s" x="1894.4" y="1321.7">espace 1er emploi</text>
<text class="d" x="2005" y="1320.7">E11</text>
<text class="d" x="2416" y="1320.7">E10</text>
<text class="c" x="1815" y="1382.3">Bureau E</text>
<text class="c" x="2413" y="1409.3">chef de travaux</text>
<text class="c" x="2413" y="1421.3">Bureau E</text>
</g>
<g id="title-masks" fill="#a2d8f8">
<rect x="162" y="1360" width="156" height="86"/>
<rect x="130" y="1446" width="219" height="36"/>
<rect x="1102" y="1122" width="474" height="39.7"/>
<rect x="985" y="1363" width="485" height="48.7"/>
</g>
<g id="arrows">
<path class="arr" d="M512 955L520 1068M507 1052L520 1069L530 1052"/>
<path class="arr" d="M772 955L764 1068M753 1051L764 1069L776 1052"/>
</g>
<g id="room-labels">
<g id="e109"><text class="b" x="386" y="903" textLength="92" lengthAdjust="spacingAndGlyphs">E 109</text><text class="b" x="281" y="946" textLength="300" lengthAdjust="spacingAndGlyphs" style="font-size:41px">Atelier mécanique</text></g>
<g id="e108"><text class="b" x="773" y="906" textLength="92" lengthAdjust="spacingAndGlyphs">E 108</text><text class="b" x="728" y="946" textLength="182" lengthAdjust="spacingAndGlyphs" style="font-size:41px">Petite salle</text></g>
<g id="e107"><text class="b" x="194.3" y="1392.7" textLength="90" lengthAdjust="spacingAndGlyphs">E 107</text><text class="b" x="162.7" y="1434" textLength="152" lengthAdjust="spacingAndGlyphs">salle BTS</text><text class="b" x="129.7" y="1476.7" textLength="218.6" lengthAdjust="spacingAndGlyphs" style="font-size:33px">électrotechnique</text></g>
<g id="e106"><text class="b" x="630.7" y="1346" textLength="92" lengthAdjust="spacingAndGlyphs">E 106</text><text class="b" x="622.3" y="1387.7" textLength="107.7" lengthAdjust="spacingAndGlyphs">Atelier</text></g>
<g id="e105"><text class="b" x="1294.3" y="1111.7" textLength="90" lengthAdjust="spacingAndGlyphs">E 105</text><text class="b" x="1103.7" y="1153.3" textLength="153" lengthAdjust="spacingAndGlyphs">Salle Bac</text><text class="b2" x="1269.3" y="1153.3" textLength="306.4" lengthAdjust="spacingAndGlyphs">STI2D électrotechnique</text></g>
<g id="e104"><text class="b" x="1184.3" y="1360.7" textLength="90.7" lengthAdjust="spacingAndGlyphs">E 104</text><text class="b" x="994" y="1402.7" textLength="152.7" lengthAdjust="spacingAndGlyphs">Salle Bac</text><text class="b2" x="1159.3" y="1402.7" textLength="306.4" lengthAdjust="spacingAndGlyphs">STI2D électrotechnique</text></g>
<g id="e103"><text class="b" x="1805.3" y="1140" textLength="90.4" lengthAdjust="spacingAndGlyphs">E 103</text><text class="b" x="1733.3" y="1181.7" textLength="233.4" lengthAdjust="spacingAndGlyphs">Salle de cours</text></g>
<g id="e102"><text class="b" x="2189.3" y="1140" textLength="90.7" lengthAdjust="spacingAndGlyphs">E 102</text><text class="b" x="2117.3" y="1181.7" textLength="234.4" lengthAdjust="spacingAndGlyphs">Salle de cours</text></g>
<g id="e101"><text class="b" x="2077.6" y="1409.3" textLength="88.4" lengthAdjust="spacingAndGlyphs">E 101</text><text class="b" x="2006" y="1450.7" textLength="234" lengthAdjust="spacingAndGlyphs">Salle de cours</text></g>
</g>
<g id="page-labels">
<text x="898" y="115" font-size="83" font-weight="bold" style="fill:#2b2a29" textLength="813" lengthAdjust="spacingAndGlyphs">Bâtiment E, 1e étage</text>
<text x="2350.6" y="46.7" font-size="33" style="fill:#2b2a29" textLength="221.4" lengthAdjust="spacingAndGlyphs">2016 73 04485</text>
<text class="t" x="1273" y="674" style="font-size:58px;text-anchor:middle">cour basse</text>
<text class="t" y="1714" style="font-size:50px"><tspan x="953">Avenue</tspan><tspan x="1192">de</tspan><tspan x="1318">La</tspan><tspan x="1442">Libération</tspan></text>
<text class="t" transform="translate(80,774) rotate(-90)" style="font-size:46px;text-anchor:middle">(bâtiment D)</text>
<text class="t" transform="translate(2543,774.5) rotate(-90)" style="font-size:45.5px;text-anchor:middle">(bâtiment F)</text>
</g>
<g id="compass">
<circle cx="1992" cy="280" r="74" fill="none" stroke="#111" stroke-width="1.2"/>
<path fill="none" stroke="#111" stroke-width="1" d="M1957.8 215L2023.4 346.7M1960.5 214L1993 279M1926 311.7L2057.8 248.3"/>
<text transform="translate(1941,204) rotate(-27) scale(.72,1)" font-size="50" style="fill:#000;stroke:#000;stroke-width:2.5">N</text>
</g>
</svg>
